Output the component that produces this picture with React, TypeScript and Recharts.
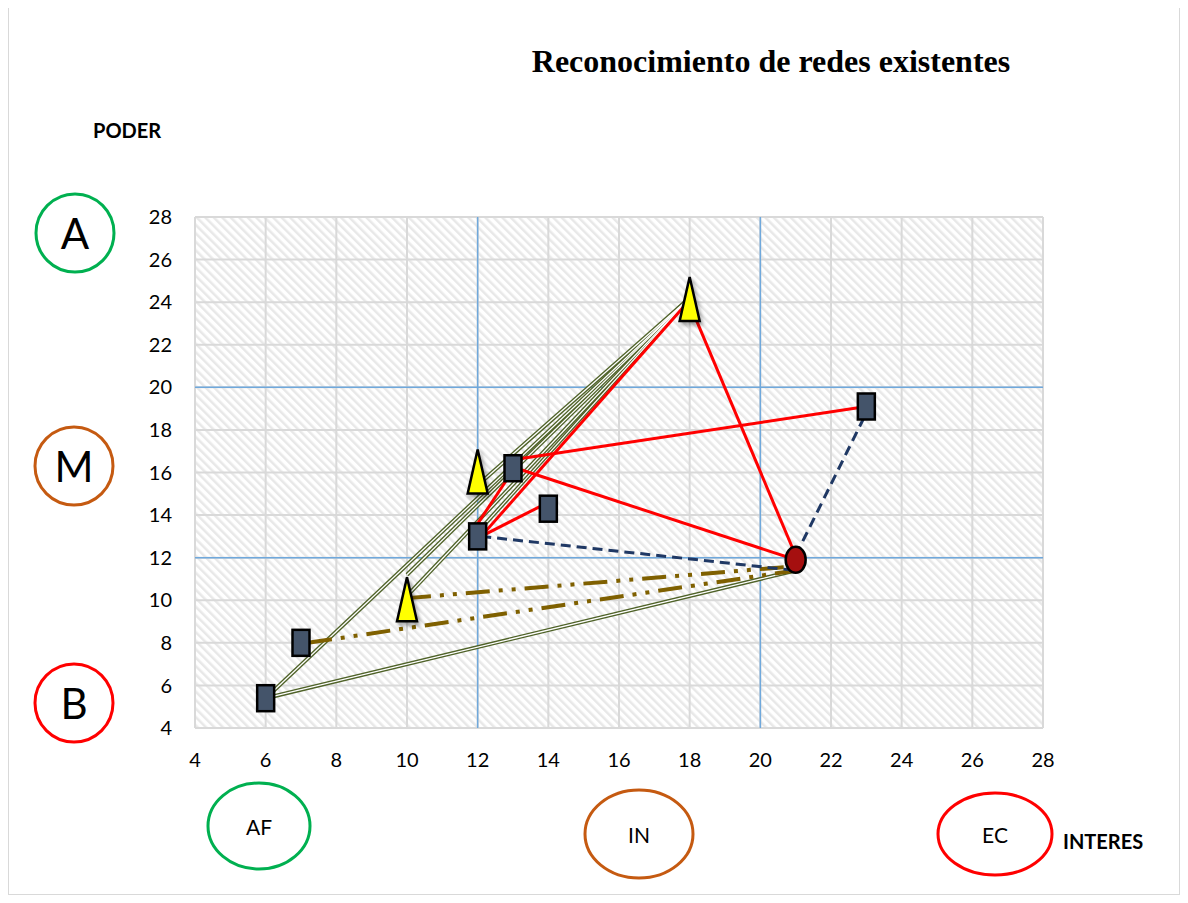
import React from 'react';
import { ScatterChart, Scatter, XAxis, YAxis, CartesianGrid, ReferenceLine } from 'recharts';

type Pt = { x: number; y: number };

const X_TICKS = [4, 6, 8, 10, 12, 14, 16, 18, 20, 22, 24, 26, 28];
const Y_TICKS = [4, 6, 8, 10, 12, 14, 16, 18, 20, 22, 24, 26, 28];
const X_SPLITS = [12, 20];
const Y_SPLITS = [12, 20];

// actores
const SQUARES: Pt[] = [
    { x: 6, y: 5.4 },
    { x: 7, y: 8 },
    { x: 12, y: 13 },
    { x: 13, y: 16.2 },
    { x: 14, y: 14.3 },
    { x: 23, y: 19.1 },
];
const TRIANGLES: Pt[] = [
    { x: 10, y: 10 },
    { x: 12, y: 16 },
    { x: 18, y: 24.1 },
];
const CIRCLES: Pt[] = [{ x: 21, y: 11.9 }];

// relaciones
const GREEN_LINKS: Pt[][] = [
    [{ x: 6, y: 5.4 }, { x: 18, y: 24.2 }],
    [{ x: 10, y: 11.2 }, { x: 18, y: 24.2 }],
    [{ x: 10, y: 10.2 }, { x: 18, y: 24.2 }],
    [{ x: 12, y: 13.2 }, { x: 18, y: 24.2 }],
    [{ x: 12, y: 15.4 }, { x: 18, y: 24.2 }],
    [{ x: 6, y: 5.4 }, { x: 21, y: 11.4 }],
];
const RED_LINKS: Pt[][] = [
    [{ x: 12.1, y: 13 }, { x: 18, y: 24.1 }],
    [{ x: 12, y: 13.6 }, { x: 13, y: 16.1 }],
    [{ x: 12.1, y: 13 }, { x: 14, y: 14.6 }],
    [{ x: 13, y: 16.6 }, { x: 23, y: 19.1 }],
    [{ x: 13.1, y: 16.2 }, { x: 21, y: 11.9 }],
    [{ x: 18, y: 23.9 }, { x: 21, y: 12.1 }],
];
const NAVY_LINKS: Pt[][] = [
    [{ x: 12.1, y: 13 }, { x: 21, y: 11.4 }],
    [{ x: 21, y: 12.1 }, { x: 23, y: 18.8 }],
];
const BROWN_LINKS: Pt[][] = [
    [{ x: 7.2, y: 8 }, { x: 21, y: 11.4 }],
    [{ x: 10, y: 10.1 }, { x: 21, y: 11.6 }],
];

const W = 1172;
const H = 890;

const NoShape = () => <g />;

const SquareShape = (props: any) => {
    const { cx, cy } = props;
    return <rect x={cx - 8.5} y={cy - 13} width={17} height={26} fill="#44546a" stroke="#000" strokeWidth={2.5} />;
};

const TriangleShape = (props: any) => {
    const { cx, cy } = props;
    return (
        <polygon
            points={`${cx},${cy - 23} ${cx - 10},${cy + 21} ${cx + 10},${cy + 21}`}
            fill="#ffff00"
            stroke="#000"
            strokeWidth={2.5}
            filter="url(#mkShadow)"
        />
    );
};

const CircleShape = (props: any) => {
    const { cx, cy } = props;
    return <ellipse cx={cx} cy={cy} rx={10} ry={13} fill="#a50f0f" stroke="#000" strokeWidth={2.5} />;
};

const tickStyle = { fill: '#000', fontSize: 20, fontFamily: 'Lato' };

export default function App() {
    return (
        <div style={{ position: 'relative', width: W, height: H, marginTop: -3, background: '#fff' }}>
            <div style={{ position: 'absolute', left: 0, top: 0, width: W, height: H, border: '1px solid #d9d9d9', boxSizing: 'border-box' }} />
            <div style={{ position: 'absolute', left: 0, top: 0 }}>
                <ScatterChart width={W} height={H} margin={{ top: 212, right: 137, bottom: 137, left: 147 }}>
                    <CartesianGrid stroke="#d9d9d9" strokeWidth={2} fill="url(#hatch)" fillOpacity={1} />
                    <XAxis
                        type="number"
                        dataKey="x"
                        domain={[4, 28]}
                        ticks={X_TICKS}
                        axisLine={false}
                        tickLine={false}
                        tickSize={0}
                        tickMargin={25}
                        height={30}
                        tick={tickStyle}
                        interval={0}
                    />
                    <YAxis
                        type="number"
                        dataKey="y"
                        domain={[4, 28]}
                        ticks={Y_TICKS}
                        axisLine={false}
                        tickLine={false}
                        tickSize={0}
                        tickMargin={23}
                        width={40}
                        tick={tickStyle}
                        interval={0}
                    />
                    {X_SPLITS.map((v) => (
                        <ReferenceLine key={`vx-${v}`} x={v} stroke="#6fa8dc" strokeWidth={1.5} />
                    ))}
                    {Y_SPLITS.map((v) => (
                        <ReferenceLine key={`hy-${v}`} y={v} stroke="#6fa8dc" strokeWidth={1.5} />
                    ))}
                    {GREEN_LINKS.map((pts, i) => (
                        <Scatter key={`go-${i}`} data={pts} shape={NoShape} line={{ stroke: '#4f6228', strokeWidth: 4 }} isAnimationActive={false} />
                    ))}
                    {GREEN_LINKS.map((pts, i) => (
                        <Scatter key={`gi-${i}`} data={pts} shape={NoShape} line={{ stroke: '#ffffff', strokeWidth: 1.3 }} isAnimationActive={false} />
                    ))}
                    {BROWN_LINKS.map((pts, i) => (
                        <Scatter key={`br-${i}`} data={pts} shape={NoShape} line={{ stroke: '#7f6000', strokeWidth: 4, strokeDasharray: '24 9 4 9 4 9' }} isAnimationActive={false} />
                    ))}
                    {NAVY_LINKS.map((pts, i) => (
                        <Scatter key={`nv-${i}`} data={pts} shape={NoShape} line={{ stroke: '#1f3864', strokeWidth: 3, strokeDasharray: '10 6' }} isAnimationActive={false} />
                    ))}
                    {RED_LINKS.map((pts, i) => (
                        <Scatter key={`rd-${i}`} data={pts} shape={NoShape} line={{ stroke: '#ff0000', strokeWidth: 3 }} isAnimationActive={false} />
                    ))}
                    <Scatter data={SQUARES} shape={SquareShape} isAnimationActive={false} />
                    <Scatter data={TRIANGLES} shape={TriangleShape} isAnimationActive={false} />
                    <Scatter data={CIRCLES} shape={CircleShape} isAnimationActive={false} />
                </ScatterChart>
            </div>
            <svg width={W} height={H} style={{ position: 'absolute', left: 0, top: 0, pointerEvents: 'none' }}>
                <defs>
                    <pattern id="hatch" patternUnits="userSpaceOnUse" width={6} height={6} patternTransform="rotate(-45)">
                        <rect width={6} height={6} fill="#ffffff" />
                        <rect width={2.5} height={6} fill="#e8e8e8" />
                    </pattern>
                    <filter id="mkShadow" x="-50%" y="-50%" width="200%" height="200%">
                        <feDropShadow dx={2} dy={3} stdDeviation={2} floodColor="#000" floodOpacity={0.35} />
                    </filter>
                </defs>
                <text x={763} y={67} textAnchor="middle" fontFamily="'Liberation Serif', serif" fontWeight="bold" fontSize={32} fill="#000">
                    Reconocimiento de redes existentes
                </text>
                <text x={85} y={133} fontFamily="Lato" fontWeight="bold" fontSize={20} fill="#000">PODER</text>
                <text x={1055} y={844} fontFamily="Lato" fontWeight="bold" fontSize={20} fill="#000">INTERES</text>

                <circle cx={67} cy={228} r={39} fill="none" stroke="#00b050" strokeWidth={3} />
                <text x={67} y={244} textAnchor="middle" fontFamily="Lato" fontSize={42} fill="#000">A</text>
                <circle cx={66} cy={461} r={39} fill="none" stroke="#c55a11" strokeWidth={3} />
                <text x={66} y={477} textAnchor="middle" fontFamily="Lato" fontSize={42} fill="#000">M</text>
                <circle cx={66} cy={698} r={39} fill="none" stroke="#ff0000" strokeWidth={3} />
                <text x={66} y={714} textAnchor="middle" fontFamily="Lato" fontSize={42} fill="#000">B</text>

                <ellipse cx={251} cy={821} rx={51} ry={43} fill="none" stroke="#00b050" strokeWidth={3} />
                <text x={251} y={830} textAnchor="middle" fontFamily="Lato" fontSize={21} fill="#000">AF</text>
                <ellipse cx={631} cy={829} rx={54} ry={44} fill="none" stroke="#c55a11" strokeWidth={3} />
                <text x={631} y={838} textAnchor="middle" fontFamily="Lato" fontSize={21} fill="#000">IN</text>
                <ellipse cx={987} cy={829} rx={57} ry={41} fill="none" stroke="#ff0000" strokeWidth={3} />
                <text x={987} y={838} textAnchor="middle" fontFamily="Lato" fontSize={21} fill="#000">EC</text>
            </svg>
        </div>
    );
}
